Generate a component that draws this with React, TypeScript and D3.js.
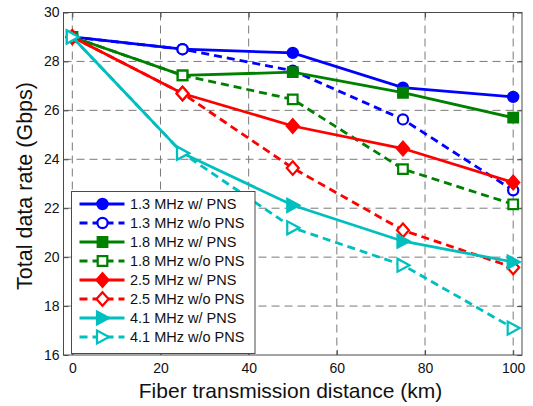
import { useEffect, useRef } from 'react';
import * as d3 from 'd3';

// distances (km)
const distances = [0, 25, 50, 75, 100];

// total data rate (Gbps) per series
const rate13With = [29, 28.5, 28.35, 26.93, 26.55];
const rate13Without = [29, 28.5, 27.62, 25.63, 22.73];
const rate18With = [29, 27.43, 27.56, 26.72, 25.7];
const rate18Without = [29, 27.43, 26.45, 23.6, 22.16];
const rate25With = [29, 26.69, 25.36, 24.44, 23.05];
const rate25Without = [29, 26.69, 23.64, 21.1, 19.58];
const rate41With = [29, 24.25, 22.12, 20.65, 19.8];
const rate41Without = [29, 24.25, 21.2, 19.67, 17.1];

const seriesLabels = [
  '1.3 MHz w/ PNS',
  '1.3 MHz w/o PNS',
  '1.8 MHz w/ PNS',
  '1.8 MHz w/o PNS',
  '2.5 MHz w/ PNS',
  '2.5 MHz w/o PNS',
  '4.1 MHz w/ PNS',
  '4.1 MHz w/o PNS',
];

const xTicks = [0, 20, 40, 60, 80, 100];
const yTicks = [16, 18, 20, 22, 24, 26, 28, 30];

type Series = {
  label: string;
  values: number[];
  color: string;
  dashed: boolean;
  marker: string;
};

const series: Series[] = [
  { label: seriesLabels[0], values: rate13With, color: '#0000ff', dashed: false, marker: 'circle' },
  { label: seriesLabels[1], values: rate13Without, color: '#0000ff', dashed: true, marker: 'circle' },
  { label: seriesLabels[2], values: rate18With, color: '#008000', dashed: false, marker: 'square' },
  { label: seriesLabels[3], values: rate18Without, color: '#008000', dashed: true, marker: 'square' },
  { label: seriesLabels[4], values: rate25With, color: '#ff0000', dashed: false, marker: 'diamond' },
  { label: seriesLabels[5], values: rate25Without, color: '#ff0000', dashed: true, marker: 'diamond' },
  { label: seriesLabels[6], values: rate41With, color: '#00bfbf', dashed: false, marker: 'triangle' },
  { label: seriesLabels[7], values: rate41Without, color: '#00bfbf', dashed: true, marker: 'triangle' },
];

function markerPath(kind: string) {
  if (kind === 'circle') return d3.symbol(d3.symbolCircle, 82)();
  if (kind === 'square') return d3.symbol(d3.symbolSquare, 92)();
  if (kind === 'diamond') return 'M0,-6.8L6,0L0,6.8L-6,0Z';
  return 'M6.5,0L-5.5,-6.5L-5.5,6.5Z';
}

export default function App() {
  const svgRef = useRef<SVGSVGElement>(null);

  useEffect(() => {
    const width = 533;
    const height = 406;
    const margin = { top: 12.5, right: 11, bottom: 51, left: 63.5 };
    const innerWidth = width - margin.left - margin.right;
    const innerHeight = height - margin.top - margin.bottom;
    const font = 'Liberation Sans, Arial, Helvetica, sans-serif';
    const axisColor = '#4a4a4a';

    const svg = d3.select(svgRef.current);
    svg.selectAll('*').remove();
    svg.attr('width', width).attr('height', height).attr('viewBox', `0 0 ${width} ${height}`);

    svg.append('rect').attr('width', width).attr('height', height).attr('fill', '#fff');

    const g = svg.append('g').attr('transform', `translate(${margin.left},${margin.top})`);

    const x = d3.scaleLinear().domain([-2, 102]).range([0, innerWidth]);
    const y = d3.scaleLinear().domain([16, 30]).range([innerHeight, 0]);

    // Grid
    g.append('g')
      .selectAll('line')
      .data(xTicks)
      .enter()
      .append('line')
      .attr('x1', (d) => x(d))
      .attr('x2', (d) => x(d))
      .attr('y1', 0)
      .attr('y2', innerHeight)
      .attr('stroke', '#7a7a7a')
      .attr('stroke-width', 1)
      .attr('stroke-dasharray', '8,5');

    g.append('g')
      .selectAll('line')
      .data(yTicks.slice(1, -1))
      .enter()
      .append('line')
      .attr('x1', 0)
      .attr('x2', innerWidth)
      .attr('y1', (d) => y(d))
      .attr('y2', (d) => y(d))
      .attr('stroke', '#7a7a7a')
      .attr('stroke-width', 1)
      .attr('stroke-dasharray', '8,5');

    // Axes box
    g.append('rect')
      .attr('width', innerWidth)
      .attr('height', innerHeight)
      .attr('fill', 'none')
      .attr('stroke', axisColor)
      .attr('stroke-width', 1);

    // X Axis
    const xAxis = g
      .append('g')
      .attr('transform', `translate(0,${innerHeight})`)
      .call(d3.axisBottom(x).tickValues(xTicks).tickSize(-5).tickPadding(8));
    xAxis.select('.domain').remove();
    xAxis.selectAll('line').attr('stroke', axisColor);
    xAxis.selectAll('text').style('font-size', '14px').style('font-family', font).attr('fill', '#111');

    const xTop = g.append('g').call(d3.axisTop(x).tickValues(xTicks).tickSize(-5).tickFormat(() => ''));
    xTop.select('.domain').remove();
    xTop.selectAll('line').attr('stroke', axisColor);

    // Y Axis
    const yAxis = g
      .append('g')
      .call(d3.axisLeft(y).tickValues(yTicks).tickSize(-5).tickPadding(4));
    yAxis.select('.domain').remove();
    yAxis.selectAll('line').attr('stroke', axisColor);
    yAxis.selectAll('text').style('font-size', '14px').style('font-family', font).attr('fill', '#111');

    const yRight = g
      .append('g')
      .attr('transform', `translate(${innerWidth},0)`)
      .call(d3.axisRight(y).tickValues(yTicks).tickSize(-5).tickFormat(() => ''));
    yRight.select('.domain').remove();
    yRight.selectAll('line').attr('stroke', axisColor);

    // Axis titles
    svg.append('text')
      .attr('x', 290.5)
      .attr('y', 398)
      .attr('text-anchor', 'middle')
      .style('font-family', font)
      .style('font-size', '21px')
      .attr('fill', '#111')
      .text('Fiber transmission distance (km)');

    svg.append('text')
      .attr('transform', 'translate(32,186) rotate(-90)')
      .attr('text-anchor', 'middle')
      .style('font-family', font)
      .style('font-size', '21.5px')
      .attr('fill', '#111')
      .text('Total data rate (Gbps)');

    const line = d3
      .line<number>()
      .x((_, i) => x(distances[i]))
      .y((d) => y(d));

    // Series
    series.forEach((s) => {
      const sg = g.append('g');
      sg.append('path')
        .attr('d', line(s.values))
        .attr('fill', 'none')
        .attr('stroke', s.color)
        .attr('stroke-width', 2.8)
        .attr('stroke-dasharray', s.dashed ? '8,5' : null);

      sg.selectAll('path.mk')
        .data(s.values)
        .enter()
        .append('path')
        .attr('class', 'mk')
        .attr('d', markerPath(s.marker))
        .attr('transform', (d, i) => `translate(${x(distances[i])},${y(d)})`)
        .attr('fill', s.dashed ? '#fff' : s.color)
        .attr('stroke', s.color)
        .attr('stroke-width', 2.2);
    });

    // Legend
    const legend = svg.append('g').attr('transform', 'translate(71.5,191.5)');
    legend.append('rect')
      .attr('width', 183.5)
      .attr('height', 162)
      .attr('fill', '#fff')
      .attr('stroke', axisColor)
      .attr('stroke-width', 1);

    series.forEach((s, i) => {
      const ly = 12.5 + i * 19;
      const row = legend.append('g').attr('transform', `translate(0,${ly})`);
      row.append('line')
        .attr('x1', 8)
        .attr('x2', 53)
        .attr('y1', 0)
        .attr('y2', 0)
        .attr('stroke', s.color)
        .attr('stroke-width', 2.8)
        .attr('stroke-dasharray', s.dashed ? '8,5' : null);
      row.append('path')
        .attr('d', markerPath(s.marker))
        .attr('transform', 'translate(31,0)')
        .attr('fill', s.dashed ? '#fff' : s.color)
        .attr('stroke', s.color)
        .attr('stroke-width', 2.2);
      row.append('text')
        .attr('x', 58.5)
        .attr('y', 5.2)
        .style('font-family', font)
        .style('font-size', '14.5px')
        .attr('fill', '#111')
        .text(s.label);
    });
  }, []);

  return (
    <div style={{ position: 'absolute', left: 0, top: 0 }}>
      <svg ref={svgRef} style={{ display: 'block' }}></svg>
    </div>
  );
}
